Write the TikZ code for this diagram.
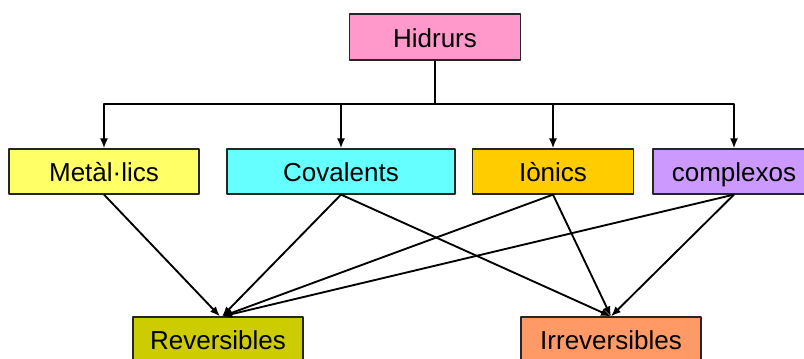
\documentclass[tikz,border=0pt]{standalone}
\usepackage{fontspec}
\setmainfont{Liberation Sans}
\usepackage{tikz}
\usetikzlibrary{arrows.meta}
\tikzset{>={Latex[length=7.5pt,width=6pt]}}

\definecolor{hidpink}{HTML}{FF99CC}
\definecolor{metyellow}{HTML}{FFFF66}
\definecolor{covcyan}{HTML}{66FFFF}
\definecolor{iongold}{HTML}{FFCC00}
\definecolor{comviolet}{HTML}{CC99FF}
\definecolor{revolive}{HTML}{CCCC00}
\definecolor{irrsalmon}{HTML}{FF9966}

\tikzset{
    box/.style={draw=black!85, line width=0.9pt, inner sep=0pt, minimum height=33.75pt,
        text height=17.5pt, text depth=2pt,
        font=\fontsize{19.5}{23}\selectfont},
    link/.style={->, line width=1.4pt}
}

\begin{document}
\begin{tikzpicture}[x=0.75pt, y=-0.75pt, line join = round]
    \useasboundingbox (0,0) rectangle (804,358);
    % top
    \node[box, fill=hidpink, minimum width=128.25pt, minimum height=34.5pt] (hid) at (435,37) {Hidrurs};
    % families
    \node[box, fill=metyellow, minimum width=142.5pt] (met) at (104,171.5) {Metàl·lics};
    \node[box, fill=covcyan, minimum width=171pt] (cov) at (341,171.5) {Covalents};
    \node[box, fill=iongold, minimum width=120.75pt] (ion) at (553,171.5) {Iònics};
    \node[box, fill=comviolet, minimum width=121.5pt] (com) at (734,171.5) {complexos};
    % storage
    \node[box, fill=revolive, minimum width=127.5pt] (rev) at (218,339.5) {Reversibles};
    \node[box, fill=irrsalmon, minimum width=135pt] (irr) at (611,339.5) {Irreversibles};

    \coordinate (bus) at (435,104);
    \draw[line width=1.4pt] (hid.south) -- (bus);
    \foreach \n in {met,cov,ion,com}
        \draw[link] (bus) -| (\n.north);

    \draw[link] (met.south) -- ([xshift=1.5]rev.north);
    \foreach \n in {cov,ion,com} {
        \draw[link] (\n.south) -- ([xshift=3]rev.north);
        \draw[link] (\n.south) -- (irr.north);
    }
\end{tikzpicture}
\end{document}
